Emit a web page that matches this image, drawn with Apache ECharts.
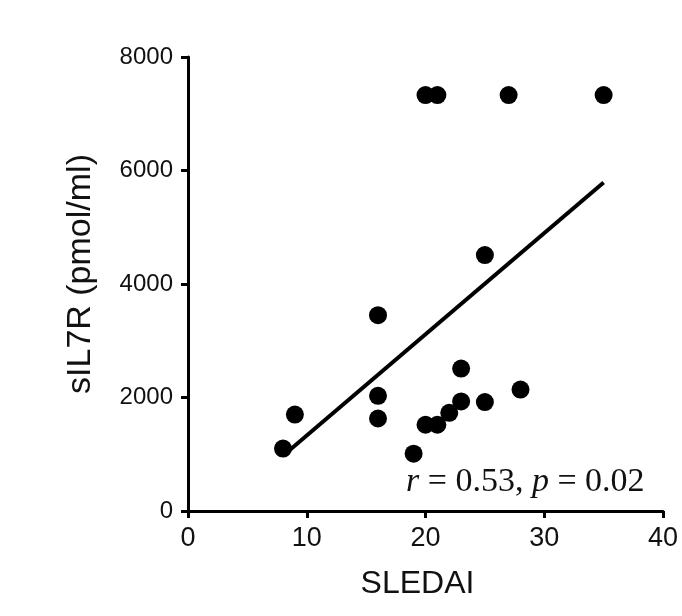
<!DOCTYPE html>
<html>
<head>
<meta charset="utf-8">
<script src="https://cdn.jsdelivr.net/npm/echarts@6/dist/echarts.min.js"></script>
<style>
html,body{margin:0;padding:0;background:#fff;}
#chart{width:682px;height:616px;}
</style>
</head>
<body>
<div id="chart"></div>
<script>
// SLEDAI score (x) and sIL7R concentration (y)
var sledai = [8, 9, 16, 16, 16, 19, 20, 21, 22, 23, 23, 25, 25, 28, 20, 21, 27, 35];
var sil7r  = [1100, 1700, 3450, 2030, 1630, 1010, 1520, 1520, 1730, 1930, 2510, 1920, 4510, 2140, 7330, 7330, 7330, 7330];
// regression line end points
var fitX = [8, 35];
var fitY = [975, 5790];
var xTicks = [0, 10, 20, 30, 40];
var yTicks = [0, 2000, 4000, 6000, 8000];
var xTitle = 'SLEDAI';
var yTitle = 'sIL7R (pmol/ml)';

var pts = sledai.map(function (v, i) { return [v, sil7r[i]]; });
var fit = fitX.map(function (v, i) { return [v, fitY[i]]; });

var chart = echarts.init(document.getElementById('chart'), null, {renderer: 'canvas'});
chart.setOption({
  backgroundColor: '#ffffff',
  animation: false,
  grid: {left: 188, right: 19, top: 57, bottom: 105},
  xAxis: {
    type: 'value',
    min: xTicks[0], max: xTicks[xTicks.length - 1], interval: 10,
    name: xTitle, nameLocation: 'middle', nameGap: 57,
    nameTextStyle: {fontFamily: 'Liberation Sans, Arial', fontSize: 32, color: '#111', padding: [0, 16, 0, 0]},
    axisLine: {lineStyle: {color: '#000', width: 3}},
    axisTick: {length: 7, lineStyle: {color: '#000', width: 3}},
    axisLabel: {fontFamily: 'Liberation Sans, Arial', fontSize: 27, color: '#111', margin: 14,
      formatter: function (v) { return String(v); }},
    splitLine: {show: false}
  },
  yAxis: {
    type: 'value',
    min: yTicks[0], max: yTicks[yTicks.length - 1], interval: 2000,
    name: yTitle, nameLocation: 'middle', nameGap: 90, nameRotate: 90,
    nameTextStyle: {fontFamily: 'Liberation Sans, Arial', fontSize: 34, color: '#111', padding: [0, 0, 0, 20]},
    axisLine: {show: true, lineStyle: {color: '#000', width: 3}},
    axisTick: {show: true, length: 7, lineStyle: {color: '#000', width: 3}},
    axisLabel: {fontFamily: 'Liberation Sans, Arial', fontSize: 24, color: '#111', margin: 15,
      formatter: function (v) { return String(v); }},
    splitLine: {show: false}
  },
  series: [
    {
      type: 'line',
      data: fit,
      showSymbol: false,
      symbol: 'none',
      lineStyle: {color: '#000', width: 4},
      z: 2
    },
    {
      type: 'scatter',
      data: pts,
      symbol: 'circle',
      symbolSize: 18,
      itemStyle: {color: '#000', opacity: 1},
      z: 3
    }
  ],
  graphic: [
    {
      type: 'text',
      left: 406,
      top: 465,
      style: {
        text: '{i|r} = 0.53, {i|p} = 0.02',
        font: '34px "Liberation Serif", "Times New Roman", serif',
        fill: '#111',
        rich: {
          i: {fontStyle: 'italic', fontFamily: 'Liberation Serif', fontSize: 34, fill: '#111'}
        }
      }
    }
  ]
});
</script>
</body>
</html>
